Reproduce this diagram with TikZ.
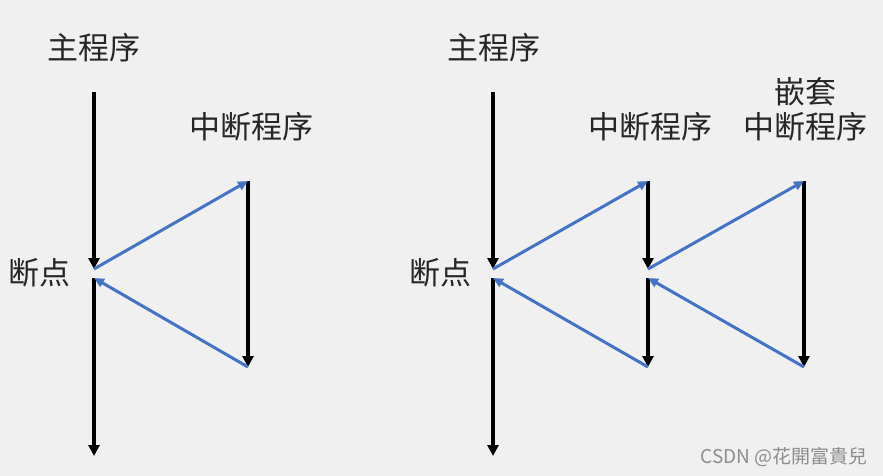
\documentclass[tikz,border=0pt]{standalone}
\usepackage{fontspec}
\newfontfamily\cjk{Noto Sans CJK SC}
\usetikzlibrary{arrows.meta}
\definecolor{bg}{HTML}{F0F0F0}
\definecolor{ablue}{HTML}{4472C4}
\begin{document}
\begin{tikzpicture}[x=1pt,y=-1pt,
  lbl/.style={font=\cjk\fontsize{31}{36}\selectfont, inner sep=0pt, text=black!85},
  mainarr/.style={line width=3.6pt, draw=black, -{Triangle[length=11pt,width=11pt]}},
  bluearr/.style={line width=3pt, draw=ablue, -{Triangle[length=10pt,width=9pt]}}]
\fill[bg] (0,0) rectangle (883,476);
\useasboundingbox (0,0) rectangle (883,476);
% ---------- left diagram ----------
\node[lbl] (mainL) at (94,48) {主程序};
\node[lbl] (intL) at (251,127) {中断程序};
\node[lbl] (bpL) at (40,273) {断点};
\coordinate (mLtop) at (94,92);
\coordinate (mLbp) at (94,269);
\coordinate (mLbp2) at (94,278);
\coordinate (mLend) at (94,456);
\coordinate (iLtop) at (248,181);
\coordinate (iLend) at (248,367);
\draw[mainarr] (mLtop) -- (mLbp);
\draw[mainarr] (mLbp2) -- (mLend);
\draw[mainarr] (iLtop) -- (iLend);
\draw[bluearr] (mLbp) -- (iLtop);
\draw[bluearr] (iLend) -- (mLbp2);
% ---------- right diagram ----------
\node[lbl] (mainR) at (494,48) {主程序};
\node[lbl] (intR) at (650,127) {中断程序};
\node[lbl] (nestA) at (805,92) {嵌套};
\node[lbl] (nestB) at (805,127) {中断程序};
\node[lbl] (bpR) at (440,273) {断点};
\coordinate (mRtop) at (493,92);
\coordinate (mRbp) at (493,269);
\coordinate (mRbp2) at (493,278);
\coordinate (mRend) at (493,456);
\coordinate (iRtop) at (648,181);
\coordinate (iRbp) at (648,269);
\coordinate (iRbp2) at (648,278);
\coordinate (iRend) at (648,367);
\coordinate (nRtop) at (804,181);
\coordinate (nRend) at (804,367);
\draw[mainarr] (mRtop) -- (mRbp);
\draw[mainarr] (mRbp2) -- (mRend);
\draw[mainarr] (iRtop) -- (iRbp);
\draw[mainarr] (iRbp2) -- (iRend);
\draw[mainarr] (nRtop) -- (nRend);
\draw[bluearr] (mRbp) -- (iRtop);
\draw[bluearr] (iRend) -- (mRbp2);
\draw[bluearr] (iRbp) -- (nRtop);
\draw[bluearr] (nRend) -- (iRbp2);
% ---------- watermark ----------
\node[font=\cjk\fontsize{19}{22}\selectfont, text=black!45, inner sep=0pt, anchor=east] (wm) at (868,457) {CSDN @花開富貴兒};
\end{tikzpicture}
\end{document}
